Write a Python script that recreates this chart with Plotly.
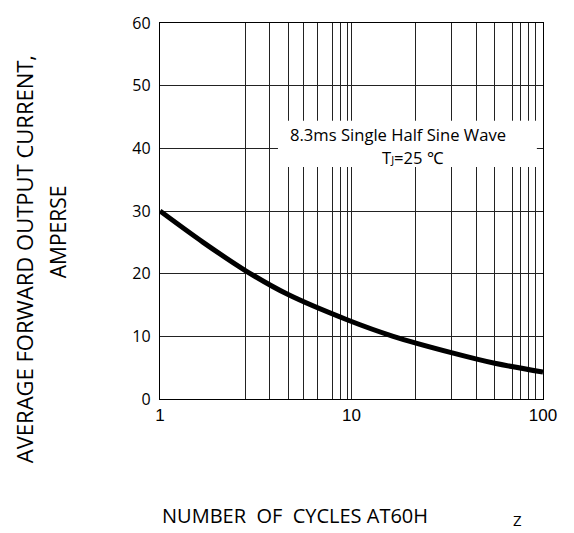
import plotly.graph_objects as go

# ---- data ----
cycles = [1, 1.68, 2.79, 4.64, 9.55, 16.5, 33.2, 56, 100]
current = [30.0, 25.0, 20.5, 16.7, 12.6, 10.0, 7.4, 5.7, 4.3]

x_tick_vals = [1, 10, 100]
x_tick_text = ["1", "10", "100"]
# grid lines as drawn in the reference (in cycles)
x_grid_vals = [2.8, 3.74, 4.68, 5.6, 6.66, 7.94, 8.71, 9.55,
               21.6, 33.4, 44.7, 56.0, 69.5, 76.5, 83.8, 91.6]
y_tick_vals = [0, 10, 20, 30, 40, 50, 60]

GRID = "#222222"
FONT = "Open Sans"

fig = go.Figure()
fig.add_trace(go.Scatter(
    x=cycles, y=current, mode="lines",
    line=dict(color="black", width=5, shape="spline", smoothing=1.0),
    hoverinfo="skip",
))

fig.update_layout(
    width=574, height=533,
    margin=dict(l=160, r=31, t=15, b=134),
    paper_bgcolor="white", plot_bgcolor="white",
    showlegend=False,
    font=dict(family=FONT, color="black"),
)

fig.update_xaxes(
    type="log", range=[0, 2],
    tickvals=x_tick_vals, ticktext=x_tick_text,
    tickfont=dict(family="Liberation Sans", size=17, color="black"),
    ticks="", ticklabelstandoff=0,
    showgrid=True, gridcolor=GRID, gridwidth=1,
    minor=dict(tickvals=x_grid_vals, showgrid=True, gridcolor=GRID, gridwidth=1, ticks=""),
    showline=True, linecolor="black", linewidth=1.3, mirror=True,
    zeroline=False,
)
fig.update_yaxes(
    range=[0, 60], tickvals=y_tick_vals,
    tickfont=dict(family=FONT, size=16, color="black"),
    ticks="", ticklabelstandoff=5,
    showgrid=True, gridcolor=GRID, gridwidth=1,
    showline=True, linecolor="black", linewidth=1.3, mirror=True,
    zeroline=False,
)

# white label box covering the grid
fig.add_shape(type="rect", xref="paper", yref="paper",
              x0=0.308, x1=0.984, y0=0.617, y1=0.740,
              fillcolor="white", line=dict(width=0), layer="above")

fig.add_annotation(xref="paper", yref="paper", x=0.621, y=0.703,
                   text="8.3ms Single Half Sine Wave", showarrow=False,
                   font=dict(family=FONT, size=16.6, color="black"),
                   xanchor="center", yanchor="middle")
fig.add_annotation(xref="paper", yref="paper", x=0.661, y=0.643,
                   text="T<span style='font-size:11px'>J</span>=25 ℃", showarrow=False,
                   font=dict(family=FONT, size=16.6, color="black"),
                   xanchor="center", yanchor="middle")

# y title (two separate lines)
fig.add_annotation(xref="paper", yref="paper", x=-0.355, y=0.372,
                   text="AVERAGE FORWARD OUTPUT CURRENT,", textangle=-90,
                   showarrow=False, font=dict(family=FONT, size=22, color="black"),
                   xanchor="center", yanchor="middle")
fig.add_annotation(xref="paper", yref="paper", x=-0.2676, y=0.445,
                   text="AMPERSE", textangle=-90,
                   showarrow=False, font=dict(family=FONT, size=21, color="black"),
                   xanchor="center", yanchor="middle")

# x title
fig.add_annotation(xref="paper", yref="paper", x=0.0, y=-0.3086,
                   text="NUMBER\u00a0 OF\u00a0 CYCLES AT60H", showarrow=False,
                   font=dict(family=FONT, size=20, color="black"),
                   xanchor="left", yanchor="middle")
fig.add_annotation(xref="paper", yref="paper", x=0.933, y=-0.3216,
                   text="Z", showarrow=False,
                   font=dict(family=FONT, size=15, color="black"),
                   xanchor="center", yanchor="middle")

fig.write_html("out.html")
